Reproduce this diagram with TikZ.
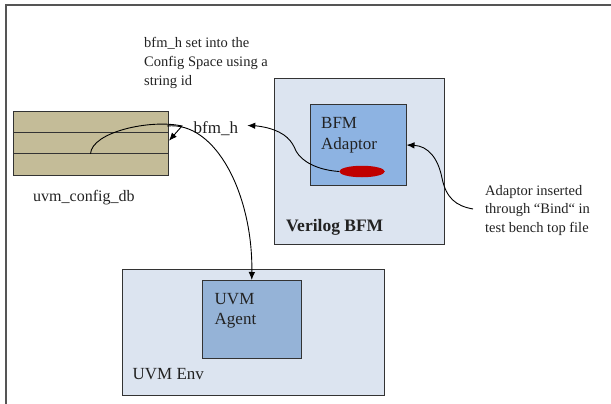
\documentclass[tikz,border=0pt]{standalone}
\usepackage{fontspec}
\setmainfont{Liberation Serif}
\usetikzlibrary{arrows.meta,shapes.geometric}

\definecolor{framegray}{HTML}{555555}
\definecolor{boxedge}{HTML}{333333}
\definecolor{dbtan}{HTML}{C4BC98}
\definecolor{paleblue}{HTML}{DCE4F0}
\definecolor{midblue}{HTML}{8DB3E2}
\definecolor{agentblue}{HTML}{95B3D7}
\definecolor{tagred}{HTML}{C00000}
\definecolor{inktext}{HTML}{222222}

\tikzset{
  panel/.style={draw=boxedge, line width=1pt, anchor=north west, inner sep=0pt},
  label/.style={text=inktext, inner sep=0pt, anchor=west, font=\fontsize{17}{21}\selectfont},
  note/.style={text=inktext, inner sep=0pt, anchor=north west, align=left,
               font=\fontsize{14.5}{18.7}\selectfont},
  link/.style={draw=black, line width=0.9pt},
  tip/.style={-{Latex[length=8pt,width=6.5pt]}}
}

\begin{document}
\begin{tikzpicture}[x=1pt,y=-1pt]
\useasboundingbox (0,0) rectangle (611,404);

% page frame (open to the right and bottom)
\draw[framegray, line width=1.8pt] (6,404) -- (6,5) -- (611,5);

% configuration database with three rows
\node[panel, fill=dbtan, minimum width=155pt, minimum height=63.5pt] (db) at (13,111.5) {};
\draw[boxedge, line width=1pt] (13,132.7) -- (168,132.7);
\draw[boxedge, line width=1pt] (13,153.7) -- (168,153.7);
\coordinate (dbstart) at (90.5,153.7);
\node[label, font=\fontsize{16}{20}\selectfont] (dbname) at (33,198) {uvm\_config\_db};

% Verilog BFM block with its adaptor
\node[panel, fill=paleblue, minimum width=170pt, minimum height=166pt] (vbfm) at (274,78) {};
\node[panel, fill=midblue, minimum width=95.5pt, minimum height=81pt] (adaptor) at (310,104) {};
\node[label] (adtitle) at (321,123) {BFM};
\node[label] (adtitle2) at (321,145) {Adaptor};
\node[ellipse, fill=tagred, minimum width=45.5pt, minimum height=11.5pt, inner sep=0pt] (tag) at (362,171.5) {};
\node[label, font=\bfseries\fontsize{17.5}{21}\selectfont] (vbfmname) at (286,227.5) {Verilog BFM};

% UVM environment with its agent
\node[panel, fill=paleblue, minimum width=262.5pt, minimum height=126pt] (env) at (121.5,269) {};
\node[panel, fill=agentblue, minimum width=98.5pt, minimum height=78pt] (agent) at (202,280) {};
\node[label] (agname) at (214.5,299) {UVM};
\node[label] (agname2) at (214.5,321) {Agent};
\node[label] (envname) at (132.5,374) {UVM Env};

% handle label and explanatory notes
\node[label] (handle) at (193.5,128.5) {bfm\_h};
\node[note] (setnote) at (144,37.5) {bfm\_h set into the\\Config Space using a\\string id};
\node[note] (bindnote) at (485,185) {Adaptor inserted\\through “Bind“ in\\test bench top file};

% connectors
\coordinate (bindstart) at (473,209);
\coordinate (hook) at (182,126);
\coordinate (handlestart) at (167,126);
\coordinate (handletip) at ([xshift=9pt,yshift=3pt]handle.east);

\draw[link, tip] (tag.west)
  .. controls (318,170) and (302,162) .. (296,151)
  .. controls (292,141) and (286,133) .. (268,128)
  .. controls (262,126.5) and (256,125.8) .. (handletip);

\draw[link, tip] (bindstart)
  .. controls (456,206) and (446,198) .. (442,178)
  .. controls (438,158) and (428,146) .. (adaptor.east);

\draw[link, tip] (dbstart)
  .. controls (92,132) and (150,119) .. (hook)
  -- ([yshift=3pt]db.east);

\draw[link, tip] (handlestart)
  .. controls (216,121) and (253,195) .. (agent.north);
\end{tikzpicture}
\end{document}
